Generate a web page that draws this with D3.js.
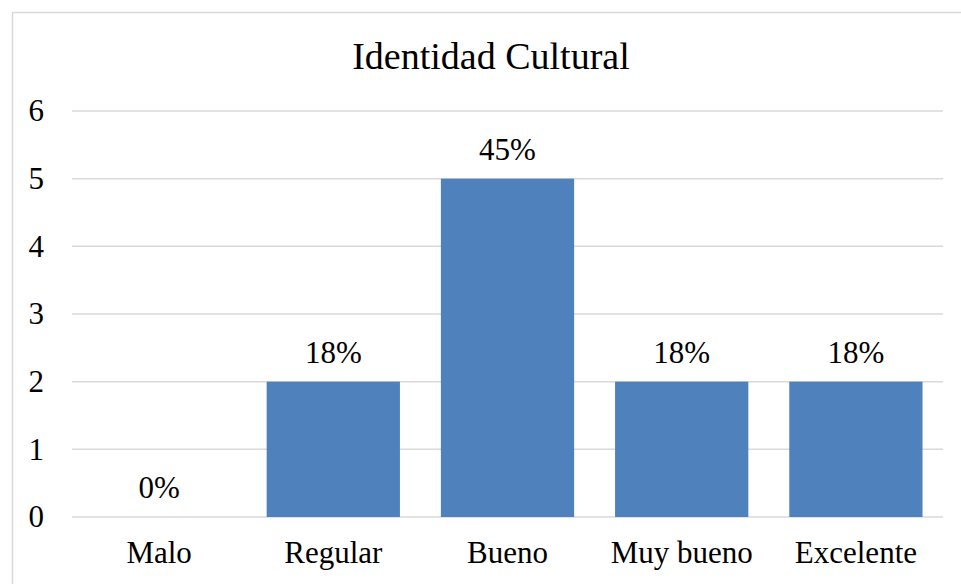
<!DOCTYPE html>
<html><head><meta charset="utf-8">
<script src="https://cdn.jsdelivr.net/npm/d3@7"></script></head>
<body style="margin:0">
<svg id="chart" width="961" height="584" style="display:block;font-family:'Liberation Serif','Times New Roman',Times,serif"></svg>
<script>
const title = "Identidad Cultural";
const categories = ["Malo", "Regular", "Bueno", "Muy bueno", "Excelente"];
const values = [0, 2, 5, 2, 2];
const percentLabels = ["0%", "18%", "45%", "18%", "18%"];
const yTicks = [0, 1, 2, 3, 4, 5, 6];

const FONT = "'Liberation Serif', 'Times New Roman', Times, serif";
const svg = d3.select("#chart");
const W = 961, H = 584;
const margin = { left: 72, right: 18, top: 111, bottom: 67 };
const plotW = W - margin.left - margin.right;
const plotH = H - margin.top - margin.bottom;

svg.append("rect")
  .attr("x", 12.5).attr("y", 12.5)
  .attr("width", W).attr("height", H)
  .attr("fill", "#fff").attr("stroke", "#d9d9d9").attr("stroke-width", 1.5);

const x = d3.scaleBand().domain(categories).range([margin.left, margin.left + plotW])
  .paddingInner(0.235).paddingOuter(0.1175);
const y = d3.scaleLinear().domain([0, 6]).range([margin.top + plotH, margin.top]);

svg.append("g").selectAll("line").data(yTicks).join("line")
  .attr("x1", margin.left).attr("x2", margin.left + plotW)
  .attr("y1", d => y(d)).attr("y2", d => y(d))
  .attr("stroke", "#d9d9d9").attr("stroke-width", 1.5);

const yAxis = d3.axisLeft(y).tickValues(yTicks).tickSize(0).tickPadding(28).tickFormat(d3.format("d"));
const gy = svg.append("g").attr("transform", `translate(${margin.left},0)`).call(yAxis);
gy.select(".domain").remove();
gy.attr("font-family", null).attr("font-size", null);
gy.selectAll("text").style("font-size", "31px").style("font-family", FONT).attr("fill", "#000");

svg.append("g").selectAll("rect").data(values).join("rect")
  .attr("x", (d, i) => x(categories[i]))
  .attr("width", x.bandwidth())
  .attr("y", d => y(d))
  .attr("height", d => y(0) - y(d))
  .attr("fill", "#4f81bd");

svg.append("g").selectAll("text").data(values).join("text")
  .attr("x", (d, i) => x(categories[i]) + x.bandwidth() / 2)
  .attr("y", d => y(d) - 19)
  .attr("text-anchor", "middle")
  .style("font-size", "31px")
  .style("font-family", FONT)
  .attr("fill", "#000")
  .text((d, i) => percentLabels[i]);

const xAxis = d3.axisBottom(x).tickSize(0).tickPadding(0);
const gx = svg.append("g").attr("transform", `translate(0,${y(0)})`).call(xAxis);
gx.select(".domain").remove();
gx.attr("font-family", null).attr("font-size", null);
gx.selectAll("text").style("font-size", "31px").style("font-family", FONT)
  .attr("fill", "#000").attr("dy", null).attr("y", 46);

svg.append("text")
  .attr("x", 491).attr("y", 69)
  .attr("text-anchor", "middle")
  .style("font-size", "38px")
  .style("font-family", FONT)
  .attr("fill", "#000")
  .text(title);
</script>
</body></html>
